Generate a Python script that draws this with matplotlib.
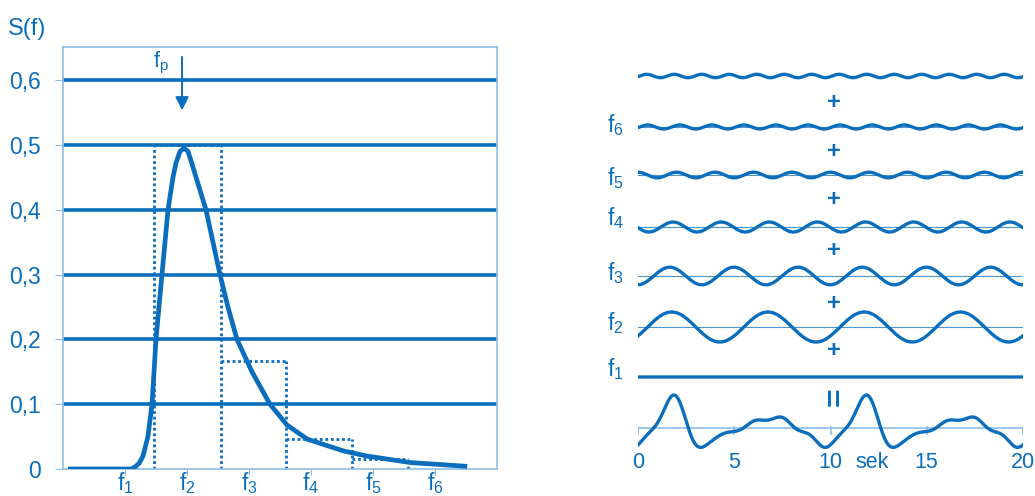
import numpy as np
import matplotlib
matplotlib.use('Agg')
import matplotlib.pyplot as plt

#%% Data - spectrum S(f) (left panel)
freq = [0.04, 0.30, 0.55, 0.58, 0.615, 0.645, 0.685, 0.718, 0.75, 0.798, 0.847, 0.887, 0.911, 0.944,
        0.976, 1.008, 1.038, 1.073, 1.153, 1.266, 1.33, 1.403, 1.524, 1.669, 1.806, 1.97,
        2.26, 2.45, 2.80, 3.26]
spec = [0.0, 0.0, 0.0, 0.003, 0.009, 0.02, 0.05, 0.10, 0.20, 0.30, 0.40, 0.45, 0.472, 0.49,
        0.495, 0.49, 0.472, 0.45, 0.40, 0.30, 0.25, 0.20, 0.15, 0.10, 0.068, 0.046,
        0.028, 0.02, 0.01, 0.004]

bin_edges = [0.734, 1.274, 1.80, 2.33, 2.78]
bin_heights = [0.5, 0.167, 0.047, 0.015]

y_ticks = [0, 0.1, 0.2, 0.3, 0.4, 0.5, 0.6]
y_labels = ['0', '0,1', '0,2', '0,3', '0,4', '0,5', '0,6']
f_pos = [0.5, 1.0, 1.5, 2.0, 2.5, 3.0]
f_labels = ['f$_1$', 'f$_2$', 'f$_3$', 'f$_4$', 'f$_5$', 'f$_6$']
f_peak = 0.96

#%% Data - wave components (right panel)
wave_freq = [0.1, 0.2, 0.3, 0.4, 0.5, 0.6, 0.7]      # Hz
wave_amp = [0.0, 15.0, 8.8, 5.0, 2.8, 2.0, 1.7]      # wave height
wave_crest = [0.0, 1.75, 1.65, 1.82, 0.0, 0.5, 0.45]  # time of first crest (s)
wave_names = ['f$_1$', 'f$_2$', 'f$_3$', 'f$_4$', 'f$_5$', 'f$_6$', '']
sec_ticks = [0, 5, 10, 15, 20]

#%% Style
blue = '#0A6EBD'
light = '#8CBDE6'
thin = '#4B95D3'
plt.rcParams['font.family'] = ['Liberation Sans', 'DejaVu Sans']
plt.rcParams['mathtext.fontset'] = 'custom'
plt.rcParams['mathtext.rm'] = 'Liberation Sans'
plt.rcParams['mathtext.default'] = 'regular'
fs = 16.5
dots = dict(color=blue, lw=2.0, linestyle=(0, (1, 1)), zorder=2)

fig = plt.figure(figsize=(10.35, 4.96), dpi=100)

#%% Left panel
ax = fig.add_axes([63/1035, 27/496, 434/1035, 422/496])
ax.set_xlim(0, 3.5)
ax.set_ylim(0, 0.651)
ax.hlines(y_ticks[1:], 0, 3.5, color=blue, lw=2.6, zorder=1)
# dotted bins: each edge drawn once, then the tops
for i, e in enumerate(bin_edges):
    left_h = bin_heights[i-1] if i > 0 else 0
    right_h = bin_heights[i] if i < len(bin_heights) else 0
    ax.plot([e, e], [0, max(left_h, right_h)], **dots)
for i, h in enumerate(bin_heights):
    ax.plot([bin_edges[i], bin_edges[i+1]], [h, h], **dots)
ax.plot(freq, spec, color=blue, lw=3.4, solid_capstyle='butt', solid_joinstyle='round', zorder=3)

ax.annotate('', xy=(f_peak, 0.549), xytext=(f_peak, 0.64),
            arrowprops=dict(arrowstyle='-|>', color=blue, lw=1.4, mutation_scale=20))
ax.text(0.726, 0.620, 'f$_\\mathrm{p}$', color=blue, fontsize=15.5, ha='left', va='baseline')

for s in ax.spines.values():
    s.set_color(light)
    s.set_linewidth(1.2)
ax.set_yticks(y_ticks)
ax.set_yticklabels(y_labels)
ax.set_xticks(f_pos)
ax.set_xticklabels([])
ax.tick_params(axis='y', colors=light, labelcolor=blue, labelsize=fs, length=6, pad=10)
ax.tick_params(axis='x', colors=light, length=4)
for xp, lab in zip(f_pos, f_labels):
    ax.text(xp, -0.033, lab, color=blue, fontsize=fs, ha='center', va='baseline', clip_on=False)
fig.text(8/1035, (496-35)/496, 'S(f)', color=blue, fontsize=17, ha='left', va='baseline')

#%% Right panel (y in picture rows, downwards)
ax2 = fig.add_axes([638/1035, 6/496, 385/1035, 450/496])
ax2.set_xlim(0, 20)
ax2.set_ylim(490, 40)
ax2.axis('off')

row_y = [377, 327, 276, 227, 175, 127, 76]
label_y = [376, 330, 280, 225, 185, 132, 0]
plus_y = [350, 303, 250, 199, 151, 102]
sum_y = 428

t = np.linspace(0, 20, 1200)
total = np.zeros_like(t)
for i in range(len(wave_freq)):
    w = wave_amp[i] * np.cos(2*np.pi*wave_freq[i]*(t - wave_crest[i]))
    total += w
    if 0 < wave_amp[i] and i < 6:
        ax2.plot([0, 20], [row_y[i], row_y[i]], color=thin, lw=0.8, zorder=1)
    ax2.plot(t, row_y[i] - w, color=blue, lw=2.4, zorder=2)
    if wave_names[i]:
        ax2.text(-1.61, label_y[i], wave_names[i], color=blue, fontsize=fs,
                 ha='left', va='baseline', clip_on=False)

for py in plus_y:
    ax2.text(10.18, py, '+', color=blue, fontsize=17, fontweight='bold', ha='center', va='center')
ax2.text(10.3, 397, '=', color=blue, fontsize=23, fontweight='bold', rotation=90,
         ha='center', va='center')

ax2.plot([0, 20], [sum_y, sum_y], color=light, lw=1.2, zorder=1)
for st in sec_ticks:
    ax2.plot([st, st], [sum_y - 1, sum_y + 6], color=light, lw=1.2, zorder=1)
    ax2.text(st, 468, str(st), color=blue, fontsize=15.5, ha='center', va='baseline')
ax2.text(12.18, 468, 'sek', color=blue, fontsize=15.5, ha='center', va='baseline')
ax2.plot(t, sum_y - total, color=blue, lw=2.4, zorder=2)

fig.savefig('out.png', dpi=100)
